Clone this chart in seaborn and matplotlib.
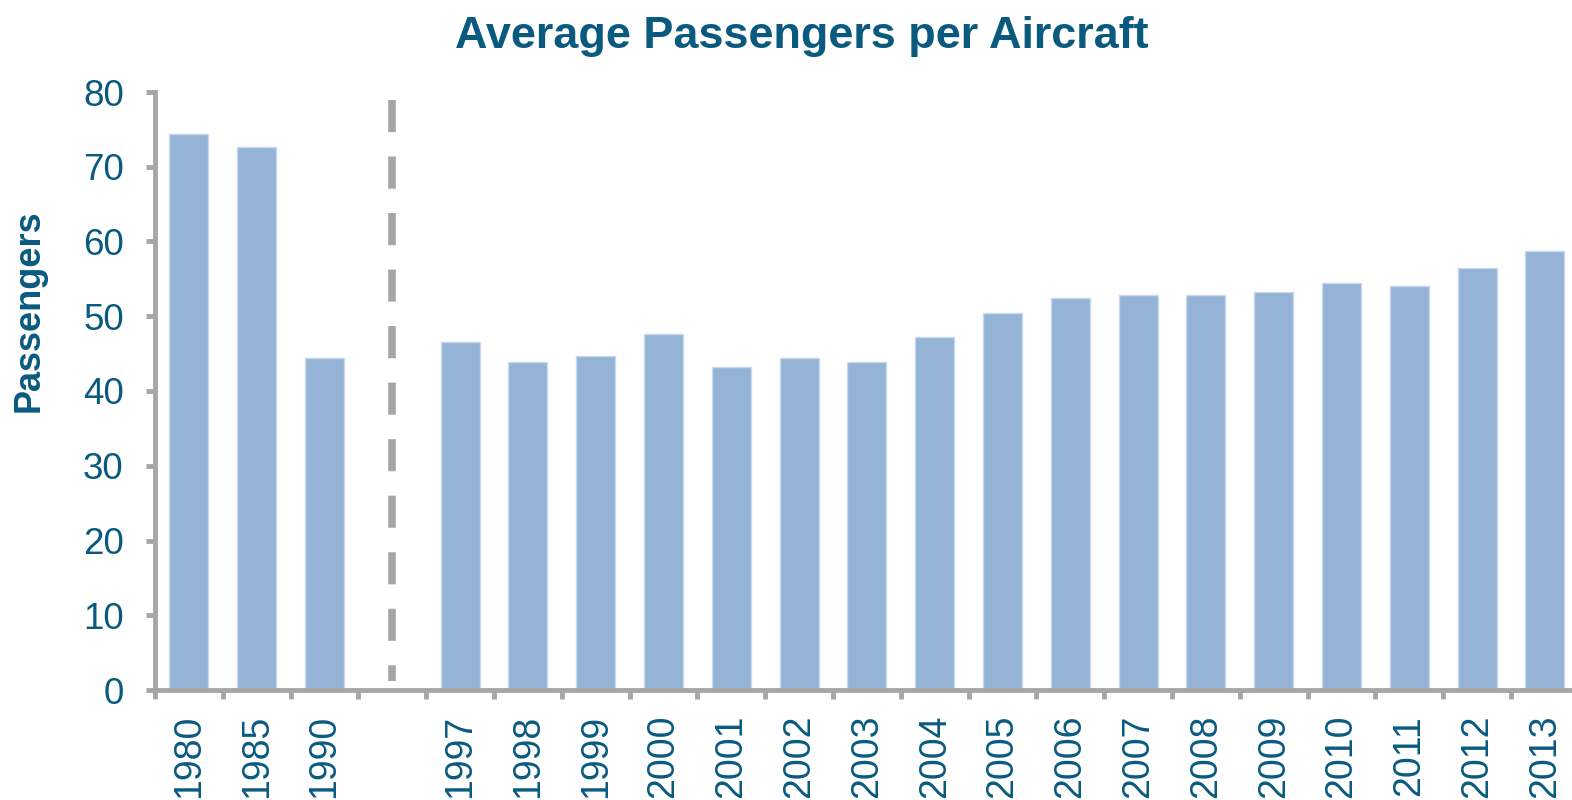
import matplotlib
matplotlib.use("Agg")
import matplotlib.pyplot as plt
import seaborn as sns
import pandas as pd

# values
years = ["1980", "1985", "1990",
         "1997", "1998", "1999", "2000", "2001", "2002", "2003", "2004",
         "2005", "2006", "2007", "2008", "2009", "2010", "2011", "2012", "2013"]
passengers = [74.4, 72.6, 44.4,
              46.6, 43.9, 44.7, 47.6, 43.2, 44.4, 43.9, 47.2,
              50.4, 52.4, 52.9, 52.8, 53.2, 54.4, 54.1, 56.5, 58.7]

# blank slot between the two series (marked by the dashed line)
order = ["1980", "1985", "1990", ""] + years[3:]

TEXT = "#0A5A80"
BAR = "#95B3D7"
AXIS = "#A6A6A6"

data = pd.DataFrame({"year": years, "passengers": passengers})

sns.set_style("white")
plt.rcParams["font.family"] = ["Liberation Sans", "DejaVu Sans"]

fig = plt.figure(figsize=(15.72, 8), dpi=100)
ax = fig.add_axes([155 / 1572, 0.1375, 21 * 67.8 / 1572, 0.7475])

sns.barplot(data=data, x="year", y="passengers", order=order,
            color=BAR, saturation=1, width=0.575,
            edgecolor="#C8D8EE", linewidth=1, ax=ax)

# dashed separator in the empty slot
gap = order.index("")
ax.plot([gap, gap], [78.9, 1.2], color=AXIS, lw=5.5,
        dashes=(4.2, 3.2), solid_capstyle="butt", dash_capstyle="butt")

ax.set_xlim(-0.5, len(order) - 0.5)
ax.set_ylim(0, 80)
ax.set_yticks(range(0, 81, 10))
ax.set_xticks(range(len(order)))
ax.set_xticklabels(order, rotation=90, fontsize=27, color=TEXT)

# category boundary ticks like the original
ax.set_xticks([i - 0.5 for i in range(len(order) + 1)], minor=True)
ax.tick_params(axis="x", which="major", length=0, pad=18)
ax.tick_params(axis="x", which="minor", length=6.5, width=3.5,
               color=AXIS, direction="out", bottom=True)
ax.tick_params(axis="y", length=6.5, width=3.5, color=AXIS,
               direction="out", left=True, pad=16,
               labelsize=26.5, labelcolor=TEXT)

for side in ["top", "right"]:
    ax.spines[side].set_visible(False)
for side in ["left", "bottom"]:
    ax.spines[side].set_color(AXIS)
    ax.spines[side].set_linewidth(3.5)

ax.set_xlabel("")
ax.set_ylabel("Passengers", fontsize=26, fontweight="bold", color=TEXT)
ax.yaxis.set_label_coords(-0.0758, 0.634)

fig.suptitle("Average Passengers per Aircraft", fontsize=32.4, fontweight="bold",
             color=TEXT, x=0.51, y=0.98)

fig.savefig("out.png", dpi=100)
plt.close(fig)
